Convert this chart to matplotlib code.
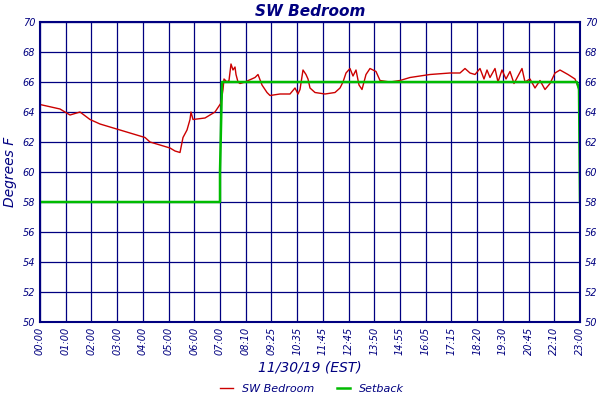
import matplotlib
matplotlib.use("Agg")
import matplotlib.pyplot as plt
import numpy as np

NAVY = "#000080"

tick_labels = ["00:00", "01:00", "02:00", "03:00", "04:00", "05:00", "06:00", "07:00",
               "08:10", "09:25", "10:35", "11:45", "12:45", "13:50", "14:55", "16:05",
               "17:15", "18:20", "19:30", "20:45", "22:10", "23:00"]

# temperature readings, x in pixel columns of the original (converted to tick slots below)
temp_px = [40, 60, 70, 80, 90, 100, 115, 130, 145, 150, 160, 170, 175, 180, 183, 187, 190, 191,
           193, 205, 210, 215, 218, 221, 223, 224, 227, 229, 231, 233, 235, 236, 238, 240, 245,
           255, 258, 262, 267, 270, 280, 290, 295, 298, 300, 303, 306, 308, 310, 315, 325, 335,
           340, 343, 346, 350, 353, 356, 359, 362, 366, 370, 376, 380, 390, 400, 410, 420, 430,
           450, 460, 465, 470, 475, 480, 484, 487, 490, 495, 498, 502, 506, 510, 514, 522, 525,
           530, 535, 540, 545, 550, 555, 560, 568, 575, 578]
temp_val = [64.5, 64.2, 63.8, 64.0, 63.5, 63.2, 62.9, 62.6, 62.3, 62.0, 61.8, 61.6, 61.4, 61.3,
            62.3, 62.8, 63.5, 64.0, 63.5, 63.6, 63.8, 64.0, 64.3, 64.6, 65.5, 66.2, 66.0, 66.1,
            67.2, 66.8, 67.0, 66.5, 66.0, 65.9, 66.0, 66.3, 66.5, 65.8, 65.3, 65.1, 65.2, 65.2,
            65.6, 65.2, 65.5, 66.8, 66.5, 66.2, 65.6, 65.3, 65.2, 65.3, 65.6, 66.0, 66.6, 66.9,
            66.4, 66.8, 65.8, 65.5, 66.5, 66.9, 66.7, 66.1, 66.0, 66.1, 66.3, 66.4, 66.5, 66.6,
            66.6, 66.9, 66.6, 66.5, 66.9, 66.2, 66.8, 66.3, 66.9, 66.0, 66.8, 66.2, 66.7, 65.9,
            66.9, 66.0, 66.2, 65.6, 66.1, 65.5, 65.9, 66.6, 66.8, 66.5, 66.2, 65.7]

setback_px = [40, 220, 220, 222, 577, 579, 580]
setback_val = [58, 58, 60, 66, 66, 65.5, 58]


def to_slot(px):
    return (np.array(px) - 40) / (580 - 40) * 21


fig = plt.figure(figsize=(6, 4), dpi=100)
ax = fig.add_axes([40 / 600, 78 / 400, 540 / 600, 300 / 400])
ax.plot(to_slot(temp_px), temp_val, color="#cc0000", linewidth=1, label="SW Bedroom")
ax.plot(to_slot(setback_px), setback_val, color="#00bb00", linewidth=1.8, label="Setback")

ax.set_xlim(0, 21)
ax.set_ylim(50, 70)
ax.set_xticks(range(22))
ax.set_xticklabels(tick_labels, rotation=90, fontsize=7, style="italic", color=NAVY)
ax.set_yticks(range(50, 71, 2))
ax.tick_params(axis="y", labelsize=7, labelcolor=NAVY, right=True, labelright=True, length=0)
ax.tick_params(axis="x", length=0)
for lab in ax.get_yticklabels():
    lab.set_style("italic")
ax.grid(True, color=NAVY, linewidth=0.9)
for s in ax.spines.values():
    s.set_color(NAVY)
    s.set_linewidth(1.5)
ax.set_title("SW Bedroom", color=NAVY, style="italic", fontweight="bold", fontsize=11, pad=4)
ax.set_ylabel("Degrees F", color=NAVY, style="italic", fontsize=10, labelpad=4)
ax.set_xlabel("11/30/19 (EST)", color=NAVY, style="italic", fontsize=10, labelpad=4)
leg = fig.legend(loc="lower center", bbox_to_anchor=(0.52, -0.01), ncol=2, frameon=False,
                 fontsize=8, handlelength=1.2, columnspacing=2)
for t in leg.get_texts():
    t.set_color(NAVY)
    t.set_style("italic")

fig.savefig("out.png", dpi=100)
